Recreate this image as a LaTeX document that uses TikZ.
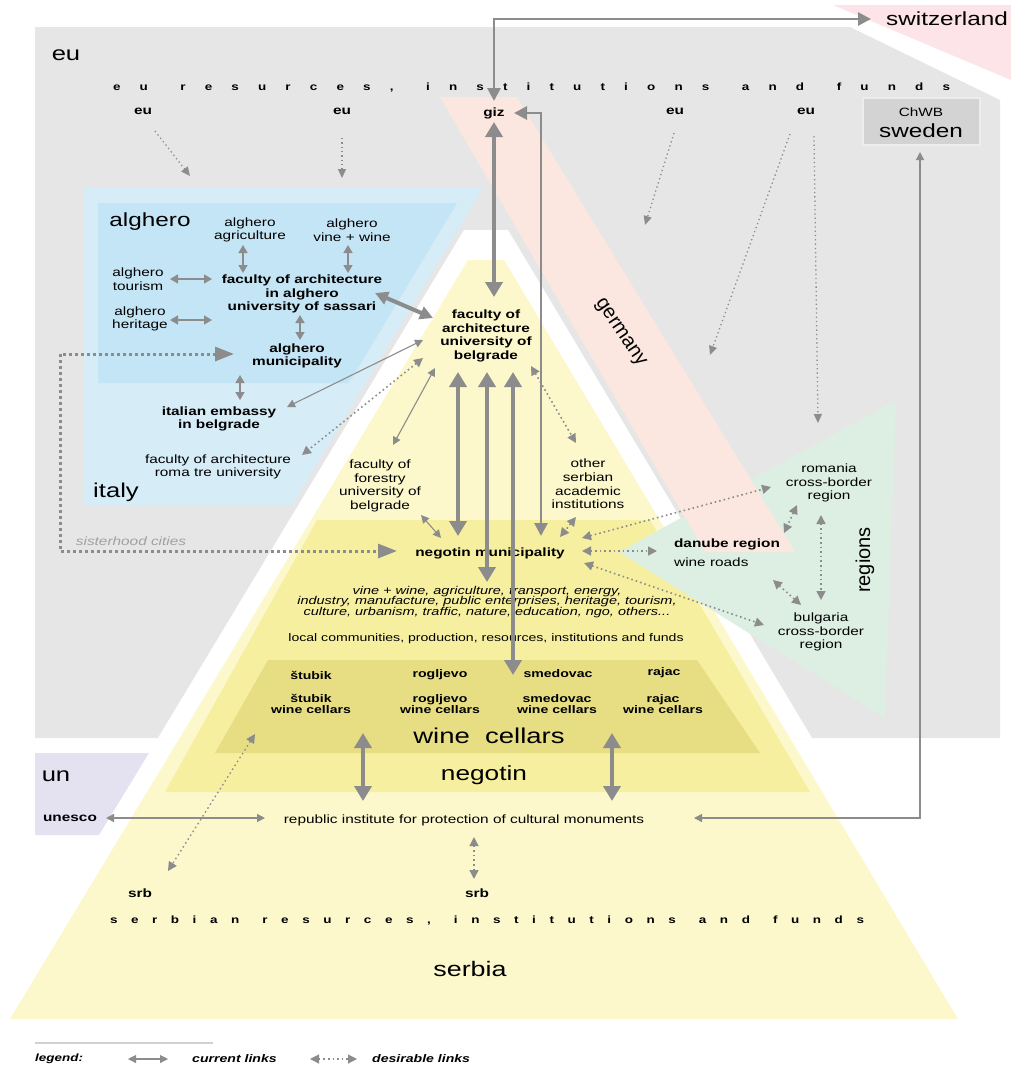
\documentclass[tikz,border=0pt]{standalone}
\usepackage{fontspec}
\setmainfont{Liberation Sans}[FakeStretch=1.28]
\newfontfamily\rotfont{Liberation Sans}
\usetikzlibrary{arrows.meta}
\definecolor{graybg}{HTML}{E6E6E6}
\definecolor{italyc}{HTML}{D6EDF8}
\definecolor{algheroc}{HTML}{C4E5F5}
\definecolor{yelc}{HTML}{FCF8CC}
\definecolor{negc}{HTML}{F7EFA0}
\definecolor{winec}{HTML}{E7DE84}
\definecolor{greenc}{HTML}{DDEFE2}
\definecolor{pinkc}{HTML}{FBE7DF}
\definecolor{switzc}{HTML}{FCE4E8}
\definecolor{unc}{HTML}{E4E1F1}
\definecolor{swebox}{HTML}{D3D3D3}
\definecolor{arrc}{HTML}{8C8C8C}
\definecolor{sisc}{HTML}{A0A0A0}
\newcommand\fsz[2]{\fontsize{#1}{#2}\selectfont}
\newcommand\Lg{\hskip 0pt plus 1fil}
\newcommand\Wg{\hskip 0pt plus 1.7fil}
\tikzset{
  lbl/.style={font=\fsz{12}{13.6}, align=center, inner sep=0pt},
  lblb/.style={font=\fsz{12}{13.6}\bfseries, align=center, inner sep=0pt},
  bigl/.style={font=\fsz{20}{22}, inner sep=0pt},
  cur/.style={draw=arrc, line width=1.6pt, {Triangle[length=8pt,width=9pt]}-{Triangle[length=8pt,width=9pt]}},
  curt/.style={draw=arrc, line width=1.1pt, {Triangle[length=8pt,width=8pt]}-{Triangle[length=8pt,width=8pt]}},
  curm/.style={draw=arrc, line width=2.8pt, {Triangle[length=13pt,width=13pt]}-{Triangle[length=13pt,width=13pt]}},
  curk/.style={draw=arrc, line width=4.5pt, {Triangle[length=15pt,width=17pt]}-{Triangle[length=15pt,width=17pt]}},
  des/.style={draw=arrc, line width=1.6pt, dash pattern=on 1.6pt off 3pt, {Triangle[length=9pt,width=9pt]}-{Triangle[length=9pt,width=9pt]}},
  desone/.style={draw=arrc, line width=1.3pt, dash pattern=on 1.3pt off 3pt, -{Triangle[length=9pt,width=8pt]}},
  desk/.style={draw=arrc, line width=3pt, dash pattern=on 3pt off 3pt, {Triangle[length=19pt,width=14pt]}-{Triangle[length=19pt,width=14pt]}},
}
\begin{document}
\begin{tikzpicture}[x=1pt,y=-1pt]
\useasboundingbox (0,0) rectangle (1011,1069);
% ---------- background regions ----------
\fill[graybg] (35,27) -- (850,27) -- (1000,100) -- (1000,738) -- (35,738) -- cycle;
\fill[switzc] (833,5) -- (1011,5) -- (1011,80) -- cycle;
\fill[italyc] (83,188) -- (483,188) -- (292,505) -- (83,505) -- cycle;
\fill[algheroc] (98,203) -- (457,203) -- (349,383) -- (98,383) -- cycle;
\fill[white] (464,230) -- (508,230) -- (812,738) -- (158,738) -- cycle;
\fill[yelc] (468,260) -- (504,260) -- (958,1019) -- (10,1019) -- cycle;
\fill[negc] (317,520) -- (650,520) -- (810,792) -- (165,792) -- cycle;
\fill[winec] (268,660) -- (697,660) -- (760,753) -- (215,753) -- cycle;
\fill[greenc] (896,400) -- (619,552) -- (885,718) -- cycle;
\fill[pinkc] (440,97) -- (517,97) -- (795,552) -- (705,552) -- cycle;
\fill[unc] (35,753) -- (149,753) -- (99,835) -- (35,835) -- cycle;
\draw[fill=swebox, draw=white!93!black, line width=1.5pt] (863,98) rectangle (980,145);
% ---------- texts ----------
\node[bigl] (eu) at (66,55) {eu};
\node[inner sep=0pt, font=\fsz{10.5}{12}\bfseries] (eures) at (531.5,88)
  {\hbox to 837pt{e\Lg u\Wg r\Lg e\Lg s\Lg u\Lg r\Lg c\Lg e\Lg s\Lg ,\Wg i\Lg n\Lg s\Lg t\Lg i\Lg t\Lg u\Lg t\Lg i\Lg o\Lg n\Lg s\Wg a\Lg n\Lg d\Wg f\Lg u\Lg n\Lg d\Lg s}};
\node[lblb] (eua) at (143,111) {eu};
\node[lblb] (eub) at (342,111) {eu};
\node[lblb] (euc) at (675,111) {eu};
\node[lblb] (eud) at (806,111) {eu};
\node[lblb] (giz) at (494,113) {giz};
\node[lbl] (chwb) at (921,112) {ChWB};
\node[inner sep=0pt, font=\fsz{19}{21}] (swe) at (921,131) {sweden};
\node[inner sep=0pt, font=\fsz{19}{21}, anchor=west] (swi) at (886,19) {switzerland};
\node[inner sep=0pt, font=\fsz{19}{21}] (alg) at (150,222) {alghero};
\node[lbl] (agr) at (250,230) {alghero\\agriculture};
\node[lbl] (vin) at (352,230) {alghero\\vine + wine};
\node[lbl] (tou) at (138,279) {alghero\\tourism};
\node[lblb] (fal) at (302,294) {faculty of architecture\\in alghero\\university of sassari};
\node[lbl] (her) at (140,319) {alghero\\heritage};
\node[lblb] (alm) at (297,356) {alghero\\municipality};
\node[lblb] (emb) at (219,419) {italian embassy\\in belgrade};
\node[lbl] (rom) at (218,467) {faculty of architecture\\roma tre university};
\node[bigl] (ita) at (116,492) {italy};
\node[lblb] (fab) at (486,336) {faculty of\\architecture\\university of\\belgrade};
\node[inner sep=0pt, rotate=-56, font=\rotfont\fsz{20}{22}] (ger) at (620,333) {germany};
\node[lbl] (for) at (380,486) {faculty of\\forestry\\university of\\belgrade};
\node[lbl] (oth) at (588,484) {other\\serbian\\academic\\institutions};
\node[inner sep=0pt, font=\fsz{12}{13.6}\itshape, text=sisc] (sis) at (131,541) {sisterhood cities};
\node[lblb] (negm) at (490,553) {negotin municipality};
\node[lbl] (roma) at (829,483) {romania\\cross-border\\region};
\node[inner sep=0pt, rotate=90, font=\rotfont\fsz{20}{22}] (reg) at (865,560) {regions};
\node[lblb] (dan) at (727,544) {danube region};
\node[lbl, anchor=west] (wro) at (674,562) {wine roads};
\node[lbl] (bul) at (821,632) {bulgaria\\cross-border\\region};
\node[inner sep=0pt, align=center, font=\fsz{11.3}{10.7}\itshape] (sec) at (487,602)
  {vine + wine, agriculture, transport, energy,\\industry, manufacture, public enterprises, heritage, tourism,\\culture, urbanism, traffic, nature, education, ngo, others...};
\node[inner sep=0pt, font=\fsz{11}{12}] (loc) at (486,639) {local communities, production, resources, institutions and funds};
\node[inner sep=0pt, font=\fsz{11}{11}\bfseries] (stu) at (311,675) {štubik};
\node[inner sep=0pt, font=\fsz{11}{11}\bfseries] (rog) at (440,675) {rogljevo};
\node[inner sep=0pt, font=\fsz{11}{11}\bfseries] (sme) at (558,674) {smedovac};
\node[inner sep=0pt, font=\fsz{11}{11}\bfseries] (raj) at (664,673) {rajac};
\node[inner sep=0pt, align=center, font=\fsz{11}{11}\bfseries] (stuw) at (311,704) {štubik\\wine cellars};
\node[inner sep=0pt, align=center, font=\fsz{11}{11}\bfseries] (rogw) at (440,704) {rogljevo\\wine cellars};
\node[inner sep=0pt, align=center, font=\fsz{11}{11}\bfseries] (smew) at (557,704) {smedovac\\wine cellars};
\node[inner sep=0pt, align=center, font=\fsz{11}{11}\bfseries] (rajw) at (663,704) {rajac\\wine cellars};
\node[inner sep=0pt, font=\fsz{21.5}{23}] (wc) at (489,736) {wine\ \ cellars};
\node[inner sep=0pt, font=\fsz{20.5}{22}] (neg) at (484,775) {negotin};
\node[bigl] (un) at (56,776) {un};
\node[lblb] (une) at (70,818) {unesco};
\node[lbl] (rep) at (464,820) {republic institute for protection of cultural monuments};
\node[lblb] (srba) at (140,893) {srb};
\node[lblb] (srbb) at (477,893) {srb};
\node[inner sep=0pt, font=\fsz{10.5}{12}\bfseries] (srbres) at (487,920)
  {\hbox to 754pt{s\Lg e\Lg r\Lg b\Lg i\Lg a\Lg n\Wg r\Lg e\Lg s\Lg u\Lg r\Lg c\Lg e\Lg s\Lg ,\Wg i\Lg n\Lg s\Lg t\Lg i\Lg t\Lg u\Lg t\Lg i\Lg o\Lg n\Lg s\Wg a\Lg n\Lg d\Wg f\Lg u\Lg n\Lg d\Lg s}};
\node[inner sep=0pt, font=\fsz{21}{23}] (ser) at (470,969) {serbia};
% legend
\coordinate (legA) at (35,1043);
\coordinate (legB) at (213,1043);
\draw[draw=black!18, line width=1.5pt] (legA) -- (legB);
\node[inner sep=0pt, anchor=west, font=\fsz{10.5}{12}\bfseries\itshape] (leg) at (35,1059) {legend:};
\node[inner sep=0pt, anchor=west, font=\fsz{11}{12}\bfseries\itshape] (lcur) at (192,1059) {current links};
\node[inner sep=0pt, anchor=west, font=\fsz{11}{12}\bfseries\itshape] (ldes) at (372,1059) {desirable links};
\coordinate (lc1) at (128,1059); \coordinate (lc2) at (168,1059);
\coordinate (ld1) at (310,1059); \coordinate (ld2) at (357,1059);
\draw[curt] (lc1) -- (lc2);
\draw[des, line width=1.2pt] (ld1) -- (ld2);
% ---------- connector end points ----------
\coordinate (agrS) at (243,245); \coordinate (falA) at (243,273);
\coordinate (vinS) at (348,245); \coordinate (falB) at (348,273);
\coordinate (touE) at (170,279); \coordinate (falW1) at (212,279);
\coordinate (herE) at (170,320); \coordinate (falW2) at (212,320);
\coordinate (falS) at (300,315); \coordinate (almN) at (300,340);
\coordinate (almS) at (240,375); \coordinate (embN) at (240,400);
\coordinate (fabW1) at (423,340); \coordinate (embE) at (287,407);
\coordinate (fabSW) at (435,368); \coordinate (forN) at (393,445);
\coordinate (forS) at (421,515); \coordinate (negNW) at (441,538);
\coordinate (uneE) at (106,818); \coordinate (repW) at (265,818);
\coordinate (repE) at (694,818); \coordinate (sweS) at (920,152);
\coordinate (falE) at (375,293); \coordinate (fabW) at (433,318);
\coordinate (gizS) at (494,122); \coordinate (fabN) at (494,297);
\coordinate (gizN) at (494,101); \coordinate (swiW) at (871,19);
\coordinate (gizE) at (514,113); \coordinate (negN) at (541,536);
\coordinate (fab1) at (458,372); \coordinate (negA) at (458,536);
\coordinate (fab2) at (487,372); \coordinate (secN) at (487,582);
\coordinate (fab3) at (513,372); \coordinate (smeN) at (513,675);
\coordinate (wcS1) at (363,733); \coordinate (repN1) at (363,801);
\coordinate (wcS2) at (612,733); \coordinate (repN2) at (612,801);
\coordinate (eu1S) at (155,131); \coordinate (eu1T) at (190,176);
\coordinate (eu2S) at (342,138); \coordinate (eu2T) at (342,178);
\coordinate (eu3S) at (674,133); \coordinate (eu3T) at (645,225);
\coordinate (eu4S) at (790,134); \coordinate (eu4T) at (710,355);
\coordinate (eu5S) at (814,136); \coordinate (eu5T) at (818,423);
\coordinate (almW) at (234,354); \coordinate (sisX) at (60,450); \coordinate (negW) at (397,551);
\coordinate (fabW2) at (423,358); \coordinate (romE) at (302,455);
\coordinate (fabE) at (531,366); \coordinate (othN) at (576,443);
\coordinate (othS) at (576,517); \coordinate (negNE) at (560,537);
\coordinate (negE1) at (582,538); \coordinate (romW) at (771,487);
\coordinate (negE2) at (582,551); \coordinate (danW) at (657,551);
\coordinate (negE3) at (584,563); \coordinate (bulW) at (764,625);
\coordinate (romS1) at (797,505); \coordinate (danNE) at (784,533);
\coordinate (romS2) at (821,515); \coordinate (bulN) at (821,600);
\coordinate (danSE) at (773,580); \coordinate (bulNW) at (801,605);
\coordinate (wcSW) at (255,734); \coordinate (srbaN) at (168,871);
\coordinate (repS) at (474,837); \coordinate (srbbN) at (474,879);
% ---------- current links ----------
\draw[cur] (agrS) -- (falA);
\draw[cur] (vinS) -- (falB);
\draw[cur] (touE) -- (falW1);
\draw[cur] (herE) -- (falW2);
\draw[cur] (falS) -- (almN);
\draw[cur] (almS) -- (embN);
\draw[curt] (fabW1) -- (embE);
\draw[curt] (fabSW) -- (forN);
\draw[curt] (forS) -- (negNW);
\draw[curt, line width=1.4pt] (uneE) -- (repW);
\draw[curt, line width=1.3pt] (repE) -| (sweS);
\draw[curm, line width=4pt] (falE) -- (fabW);
\draw[curk] (gizS) -- (fabN);
\draw[curm] (gizN) |- (swiW);
\draw[curm] (gizE) -| (negN);
\draw[curk] (fab1) -- (negA);
\draw[curk] (fab2) -- (secN);
\draw[curk] (fab3) -- (smeN);
\draw[curk] (wcS1) -- (repN1);
\draw[curk] (wcS2) -- (repN2);
% ---------- desirable links ----------
\draw[desone] (eu1S) -- (eu1T);
\draw[desone] (eu2S) -- (eu2T);
\draw[desone] (eu3S) -- (eu3T);
\draw[desone] (eu4S) -- (eu4T);
\draw[desone] (eu5S) -- (eu5T);
\draw[desk] (almW) -| (sisX) |- (negW);
\draw[des] (fabW2) -- (romE);
\draw[des] (fabE) -- (othN);
\draw[des] (othS) -- (negNE);
\draw[des] (negE1) -- (romW);
\draw[des] (negE2) -- (danW);
\draw[des] (negE3) -- (bulW);
\draw[des] (romS1) -- (danNE);
\draw[des] (romS2) -- (bulN);
\draw[des] (danSE) -- (bulNW);
\draw[des, line width=1.3pt] (wcSW) -- (srbaN);
\draw[des, line width=1.3pt] (repS) -- (srbbN);
\end{tikzpicture}
\end{document}
